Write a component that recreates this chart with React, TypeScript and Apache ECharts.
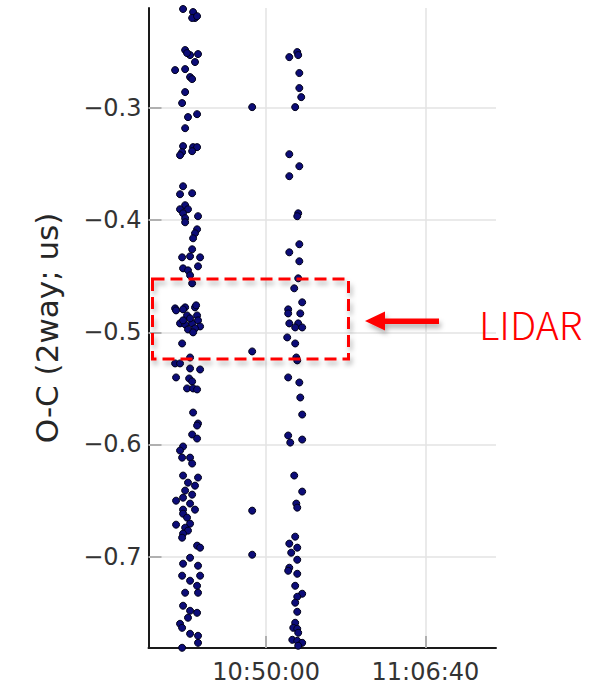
import React, { useEffect, useRef } from "react";
import * as echarts from "echarts";

// time = seconds since midnight, value = O-C (2way; us)
const passA: [number, number][] = [
  [38478, -0.2116], [38541, -0.2143], [38553, -0.2196], [38535, -0.2196], [38566, -0.218],
  [38491, -0.2482], [38522, -0.2527], [38572, -0.2518], [38553, -0.2589], [38503, -0.2509],
  [38428, -0.2661], [38491, -0.2652], [38522, -0.2723], [38535, -0.2741], [38491, -0.2857],
  [38472, -0.2955], [38566, -0.3054], [38509, -0.308], [38491, -0.3179], [38478, -0.3339],
  [38541, -0.3348], [38566, -0.3348], [38472, -0.3393], [38535, -0.3384], [38459, -0.342],
  [38478, -0.3697], [38459, -0.3768], [38535, -0.3759], [38491, -0.3866], [38459, -0.3902],
  [38509, -0.3902], [38478, -0.3938], [38572, -0.3964], [38491, -0.3982], [38491, -0.4018],
  [38566, -0.4081], [38553, -0.4116], [38541, -0.4161], [38535, -0.4259], [38472, -0.4331],
  [38522, -0.4322], [38585, -0.4331], [38572, -0.4411], [38478, -0.4429], [38509, -0.4447],
  [38522, -0.4491], [38535, -0.4563], [38428, -0.4786], [38491, -0.4777], [38553, -0.4777],
  [38434, -0.4804], [38478, -0.4795], [38560, -0.4759], [38503, -0.4849], [38566, -0.4849],
  [38459, -0.492], [38491, -0.4929], [38535, -0.492], [38572, -0.4893], [38585, -0.4947],
  [38509, -0.4974], [38553, -0.4965], [38478, -0.4893], [38522, -0.4875], [38541, -0.5],
  [38472, -0.5099], [38522, -0.5224], [38428, -0.5277], [38459, -0.5277], [38522, -0.5322],
  [38585, -0.5331], [38434, -0.5402], [38516, -0.5411], [38535, -0.5438], [38503, -0.55],
  [38541, -0.55], [38566, -0.5509], [38541, -0.5715], [38572, -0.5813], [38566, -0.5831],
  [38535, -0.5911], [38566, -0.5947], [38478, -0.6018], [38459, -0.6054], [38522, -0.6117],
  [38472, -0.6117], [38535, -0.617], [38478, -0.6277], [38572, -0.6295], [38509, -0.634],
  [38553, -0.6367], [38491, -0.6411], [38535, -0.6447], [38478, -0.6474], [38434, -0.6501],
  [38522, -0.6527], [38478, -0.6581], [38553, -0.6581], [38478, -0.6617], [38503, -0.6652],
  [38434, -0.6715], [38522, -0.6706], [38491, -0.6742], [38509, -0.6768], [38478, -0.6795],
  [38472, -0.6831], [38566, -0.6902], [38585, -0.692], [38522, -0.701], [38478, -0.7063],
  [38572, -0.7081], [38472, -0.717], [38585, -0.717], [38522, -0.7215], [38566, -0.726],
  [38491, -0.7322], [38572, -0.7322], [38478, -0.7438], [38522, -0.7483], [38566, -0.7501],
  [38509, -0.7545], [38459, -0.7599], [38472, -0.7635], [38522, -0.7688], [38572, -0.7706],
  [38572, -0.7769], [38472, -0.7813],
];

const passB: [number, number][] = [
  [38912, -0.2991], [38912, -0.517], [38912, -0.659], [38912, -0.6983],
];

const passC: [number, number][] = [
  [39195, -0.25], [39201, -0.2527], [39145, -0.2545], [39208, -0.2687], [39208, -0.2821],
  [39220, -0.2902], [39182, -0.2991], [39145, -0.3411], [39208, -0.3518], [39145, -0.3607],
  [39201, -0.3938], [39195, -0.3964], [39208, -0.4214], [39145, -0.4286], [39208, -0.4366],
  [39201, -0.4518], [39176, -0.4607], [39226, -0.4732], [39138, -0.4795], [39138, -0.4831],
  [39214, -0.4831], [39145, -0.492], [39201, -0.492], [39182, -0.4956], [39226, -0.4956],
  [39132, -0.5045], [39182, -0.5099], [39189, -0.5224], [39195, -0.525], [39138, -0.5402],
  [39208, -0.5447], [39214, -0.5581], [39226, -0.5733], [39138, -0.592], [39151, -0.5983],
  [39226, -0.5956], [39176, -0.6277], [39226, -0.642], [39189, -0.6527], [39195, -0.6563],
  [39182, -0.6822], [39145, -0.6884], [39195, -0.692], [39157, -0.6965], [39195, -0.7028],
  [39145, -0.7099], [39138, -0.7126], [39195, -0.7153], [39182, -0.726], [39226, -0.7331],
  [39195, -0.7358], [39182, -0.7411], [39195, -0.7492], [39182, -0.759], [39170, -0.7635],
  [39195, -0.7644], [39201, -0.7679], [39164, -0.7742], [39195, -0.7751], [39226, -0.7769],
  [39201, -0.7795],
];

const xTicks = [39000, 40000];
const yTicks = [-0.7, -0.6, -0.5, -0.4, -0.3];
const xRange = [38261, 40443];
const yRange = [-0.7815, -0.2107];
const yTitle = "O-C (2way; us)";
const noteLabel = "LIDAR";

const pad = (n: number) => String(n).padStart(2, "0");
const fmtTime = (s: number) => {
  const h = Math.floor(s / 3600);
  const m = Math.floor((s % 3600) / 60);
  const sec = Math.round(s % 60);
  return `${pad(h)}:${pad(m)}:${pad(sec)}`;
};
const fmtVal = (v: number) => (v < 0 ? "\u2212" : "") + Math.abs(v).toFixed(1);

export default function App() {
  const ref = useRef<HTMLDivElement>(null);
  useEffect(() => {
    if (!ref.current) return;
    const chart = echarts.init(ref.current, null, { renderer: "svg" });
    const axisColor = "#1a1a1a";
    const labelFont = { fontFamily: "DejaVu Sans", fontSize: 24, color: "#333" };
    const pointStyle = {
      color: "#0c0c78",
      borderColor: "#000018",
      borderWidth: 1,
      opacity: 1,
    };
    const shadow = {
      shadowBlur: 5,
      shadowColor: "rgba(0,0,0,0.3)",
      shadowOffsetX: 2,
      shadowOffsetY: 4,
    };
    chart.setOption({
      animation: false,
      backgroundColor: "#fff",
      grid: { left: 148.5, right: 105, top: 8, bottom: 39, containLabel: false },
      xAxis: {
        type: "value",
        min: xRange[0],
        max: xRange[1],
        axisLine: { show: true, lineStyle: { color: axisColor, width: 2 } },
        axisTick: {
          show: true,
          inside: true,
          length: 12,
          customValues: xTicks,
          lineStyle: { color: axisColor, width: 2 },
        },
        axisLabel: {
          ...labelFont,
          margin: 12,
          customValues: xTicks,
          formatter: (v: number) => fmtTime(v),
        },
        splitLine: { show: false },
      },
      yAxis: {
        type: "value",
        min: yRange[0],
        max: yRange[1],
        name: yTitle,
        nameLocation: "middle",
        nameGap: 86,
        nameTextStyle: { fontFamily: "DejaVu Sans", fontSize: 31, color: "#262626" },
        axisLine: { show: true, lineStyle: { color: axisColor, width: 2 } },
        axisTick: {
          show: true,
          inside: true,
          length: 13,
          customValues: yTicks,
          lineStyle: { color: axisColor, width: 2 },
        },
        axisLabel: {
          ...labelFont,
          margin: 7,
          customValues: yTicks,
          formatter: (v: number) => fmtVal(v),
        },
        splitLine: { show: false },
      },
      series: [
        {
          type: "scatter",
          data: [],
          z: 1,
          markLine: {
            silent: true,
            z: 1,
            symbol: ["none", "none"],
            label: { show: false },
            lineStyle: { color: "#e3e3e3", width: 1.5, type: "solid" },
            data: [
              ...xTicks.map((x) => ({ xAxis: x })),
              ...yTicks.map((y) => ({ yAxis: y })),
            ],
          },
        },
        ...[passA, passB, passC].map((d) => ({
          type: "scatter",
          data: d,
          symbol: "circle",
          symbolSize: 7,
          clip: false,
          z: 3,
          itemStyle: pointStyle,
        })),
      ],
      graphic: [
        {
          type: "rect",
          z: 100,
          shape: { x: 152.5, y: 279, width: 196, height: 80 },
          style: {
            fill: "none",
            stroke: "#ff0000",
            lineWidth: 3,
            lineDash: [12, 6],
            ...shadow,
          },
        },
        {
          type: "polygon",
          z: 100,
          shape: {
            points: [
              [365, 321],
              [385, 311.5],
              [385, 318.5],
              [439, 318.5],
              [439, 324],
              [385, 324],
              [385, 330.5],
            ],
          },
          style: { fill: "#ff0000", ...shadow },
        },
        {
          type: "text",
          z: 100,
          x: 479,
          y: 323,
          style: {
            text: noteLabel,
            fill: "#ff0000",
            font: '300 39px "Noto Sans CJK JP", "Noto Sans", sans-serif',
            verticalAlign: "middle",
            align: "left",
          },
        },
      ],
    });
    return () => chart.dispose();
  }, []);
  return (
    <div
      ref={ref}
      style={{ position: "fixed", left: 0, top: 0, width: 601, height: 687 }}
    />
  );
}
